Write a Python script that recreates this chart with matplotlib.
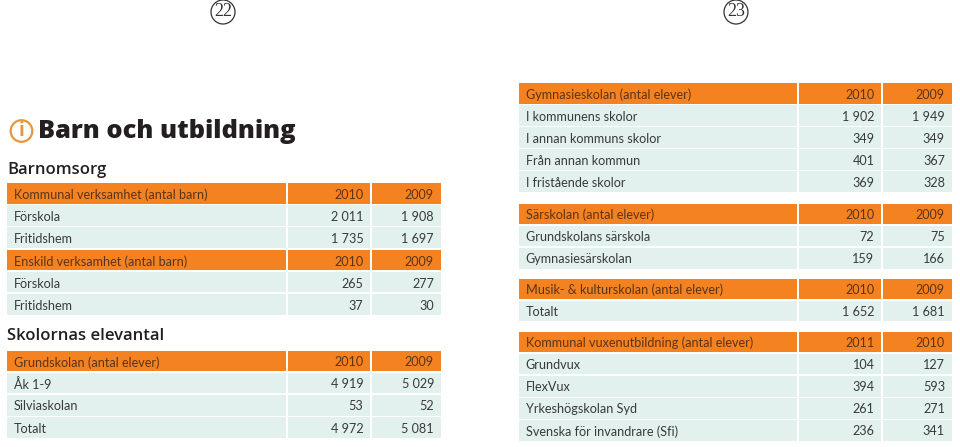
import matplotlib
matplotlib.use("Agg")
import matplotlib.pyplot as plt
from matplotlib.patches import Rectangle, Circle

# ---- data ----
kommunal_title = ["Kommunal verksamhet (antal barn)", "2010", "2009"]
kommunal_rows = [["Förskola", "2 011", "1 908"], ["Fritidshem", "1 735", "1 697"]]
enskild_title = ["Enskild verksamhet (antal barn)", "2010", "2009"]
enskild_rows = [["Förskola", "265", "277"], ["Fritidshem", "37", "30"]]
grund_title = ["Grundskolan (antal elever)", "2010", "2009"]
grund_rows = [["Åk 1-9", "4 919", "5 029"], ["Silviaskolan", "53", "52"], ["Totalt", "4 972", "5 081"]]
gymn_title = ["Gymnasieskolan (antal elever)", "2010", "2009"]
gymn_rows = [["I kommunens skolor", "1 902", "1 949"], ["I annan kommuns skolor", "349", "349"],
             ["Från annan kommun", "401", "367"], ["I fristående skolor", "369", "328"]]
sar_title = ["Särskolan (antal elever)", "2010", "2009"]
sar_rows = [["Grundskolans särskola", "72", "75"], ["Gymnasiesärskolan", "159", "166"]]
musik_title = ["Musik- & kulturskolan (antal elever)", "2010", "2009"]
musik_rows = [["Totalt", "1 652", "1 681"]]
vux_title = ["Kommunal vuxenutbildning (antal elever)", "2011", "2010"]
vux_rows = [["Grundvux", "104", "127"], ["FlexVux", "394", "593"],
            ["Yrkeshögskolan Syd", "261", "271"], ["Svenska för invandrare (Sfi)", "236", "341"]]

ORANGE = "#F58220"
MINT = "#E2F1EE"
HEAD_TXT = "#5A3418"
BODY_TXT = "#3A3A3A"
FONT = "Lato"
HFONT = "Open Sans"
FS = 9.05

fig = plt.figure(figsize=(9.6, 4.47), dpi=100)
ax = fig.add_axes([0, 0, 1, 1])
ax.set_xlim(0, 960)
ax.set_ylim(447, 0)
ax.axis("off")


def table(x0, d1, d2, x1, top, title, rows, rh=22.1, dy=1.4):
    cols = [(x0, d1), (d1 + 1.5, d2), (d2 + 1.5, x1)]
    for r, row in enumerate([title] + rows):
        y = top + r * rh
        color = ORANGE if r == 0 else MINT
        tc = HEAD_TXT if r == 0 else BODY_TXT
        for a, b in cols:
            ax.add_patch(Rectangle((a, y), b - a, rh - 1.3, fc=color, ec="none"))
        ym = y + (rh - 1.3) / 2 + dy
        ax.text(x0 + 6.5, ym, row[0], color=tc, family=FONT, fontsize=FS, va="center", ha="left")
        ax.text(d2 - 6.5, ym, row[1], color=tc, family=FONT, fontsize=FS, va="center", ha="right")
        ax.text(x1 - 6.5, ym, row[2], color=tc, family=FONT, fontsize=FS, va="center", ha="right")


L = (7, 286, 370, 440.5)
R = (519, 797, 881, 951.5)
table(*L, 183, kommunal_title, kommunal_rows, dy=1.8)
table(*L, 249.5, enskild_title, enskild_rows, dy=1.8)
table(*L, 350.5, grund_title, grund_rows)
table(*R, 83, gymn_title, gymn_rows)
table(*R, 203.5, sar_title, sar_rows, dy=0.9)
table(*R, 278.5, musik_title, musik_rows, dy=0.9)
table(*R, 331.5, vux_title, vux_rows, dy=1.0)

# headings
ax.text(38.5, 131, "Barn och utbildning", family=HFONT, fontsize=18.3, weight="heavy",
        color="#231F20", va="center", ha="left")
ax.text(7, 169.5, "Barnomsorg", family=HFONT, fontsize=12, weight="semibold",
        color="#231F20", va="center", ha="left")
ax.text(7, 336.5, "Skolornas elevantal", family=HFONT, fontsize=12, weight="semibold",
        color="#231F20", va="center", ha="left")

# info icon
ax.add_patch(Circle((21.5, 131), 10.8, fc="white", ec="#E8963A", lw=1.6))
ax.text(21.5, 131, "i", family=HFONT, fontsize=13.5, weight="bold", color="#E8963A", va="center", ha="center")

# page numbers
for cx, label in [(223, "22"), (736, "23")]:
    ax.add_patch(Circle((cx, 12), 12, fc="white", ec="#333333", lw=0.9))
    ax.text(cx, 11.5, label, family="Liberation Serif", fontsize=13, color="#333333", va="center", ha="center")

fig.savefig("out.png", dpi=100)
